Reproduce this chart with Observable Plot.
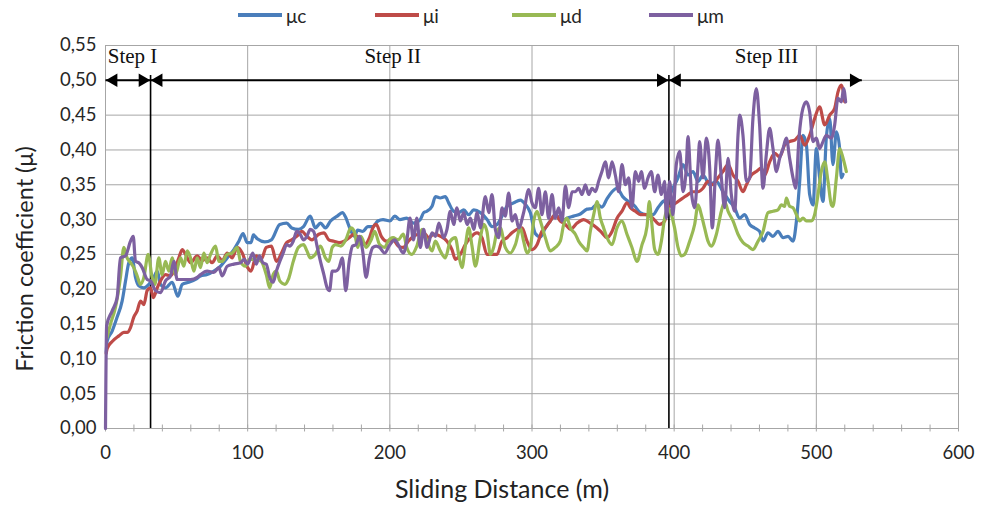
<!DOCTYPE html>
<html><head><meta charset="utf-8">
<script src="https://cdn.jsdelivr.net/npm/d3@7"></script>
<script src="https://cdn.jsdelivr.net/npm/@observablehq/plot@0.6"></script>
<style>
body{margin:0;background:#fff;width:988px;height:507px;overflow:hidden;font-family:Lato,sans-serif}
#legend{height:30px;display:flex;align-items:center;padding-left:238px;box-sizing:border-box}
.item{display:flex;align-items:center;width:137px;font-size:19px;color:#262626}
.sw{width:44px;height:3.5px;margin-right:4px}
</style></head><body>
<div id="legend"></div><div id="chart"></div>
<script>
// ---- data (distance m, friction coefficient) ----
const seriesNames = ["μc", "μi", "μd", "μm"];
const seriesColors = ["#4a7ebb", "#be4b48", "#98b954", "#7d60a0"];

const muC = [[0.5,0.11],[1.2,0.126],[4.7,0.14],[8.2,0.16],[11.7,0.183],[14.1,0.212],[16.4,0.238],[18.8,0.245],[21.1,0.217],[23.4,0.205],[27,0.202],[30.5,0.207],[34,0.217],[36.4,0.226],[38.7,0.207],[42.2,0.202],[46.9,0.21],[50.9,0.19],[54,0.207],[58.6,0.21],[63.3,0.214],[66.8,0.219],[71.5,0.221],[76.2,0.226],[80.9,0.233],[85.6,0.245],[90.3,0.257],[93.8,0.269],[96.8,0.28],[99.6,0.267],[102.4,0.267],[104,0.278],[107,0.272],[112,0.268],[116.7,0.271],[122.6,0.293],[127.4,0.295],[131,0.288],[135.7,0.286],[139.3,0.29],[144,0.305],[147.6,0.288],[151.2,0.295],[154.7,0.288],[158.3,0.298],[163,0.305],[166.6,0.31],[169,0.303],[171.4,0.29],[175,0.276],[177.4,0.285],[181,0.283],[184.5,0.29],[188,0.29],[191.6,0.298],[195.2,0.3],[200,0.298],[203.5,0.305],[207.1,0.3],[211.9,0.302],[216.6,0.295],[221.4,0.3],[223.8,0.31],[226.1,0.312],[229.7,0.319],[232.1,0.333],[235.5,0.331],[239,0.333],[241.4,0.324],[244.9,0.312],[248.4,0.31],[252,0.314],[255.5,0.307],[259,0.314],[263.7,0.31],[268.4,0.3],[271.9,0.29],[275.4,0.293],[278.9,0.305],[282.4,0.319],[287.1,0.324],[291.8,0.328],[295.3,0.322],[298.8,0.31],[302.3,0.28],[305.9,0.275],[309.4,0.288],[312.9,0.298],[316.4,0.307],[321.1,0.298],[324.6,0.302],[329.3,0.305],[334,0.308],[338.7,0.315],[342.2,0.316],[345.7,0.322],[349.2,0.318],[352.8,0.33],[356.3,0.34],[359.8,0.345],[363.8,0.333],[368.5,0.325],[372,0.32],[376,0.31],[380.4,0.307],[385,0.307],[388.6,0.317],[392.1,0.326],[395.6,0.33],[399.1,0.345],[402.7,0.36],[406.2,0.379],[409.7,0.364],[413.2,0.369],[416.8,0.355],[420.3,0.364],[425,0.35],[429.7,0.355],[434.3,0.34],[439,0.326],[442.5,0.317],[446,0.302],[449.6,0.307],[453.1,0.293],[456.6,0.288],[460.1,0.283],[462.5,0.269],[466,0.281],[469.5,0.276],[473,0.283],[476.6,0.274],[480.1,0.276],[483.6,0.269],[486,0.298],[488.3,0.355],[490.6,0.421],[493,0.407],[495.3,0.336],[497.7,0.321],[500,0.402],[502.3,0.36],[504.7,0.326],[507,0.417],[509.4,0.445],[511.7,0.379],[514.1,0.426],[516.4,0.402],[517.6,0.36],[518.8,0.365]];

const muI = [[0.5,0.108],[1.2,0.115],[4.7,0.125],[9.4,0.133],[12.9,0.138],[15.2,0.138],[17.6,0.145],[19.9,0.16],[22.3,0.169],[24.6,0.183],[27,0.178],[29.3,0.198],[31.7,0.202],[33.6,0.188],[36.4,0.202],[38.7,0.212],[42.2,0.221],[45.7,0.219],[48.1,0.226],[51.6,0.245],[54,0.257],[56.3,0.25],[59.8,0.238],[64.5,0.248],[68,0.241],[71.5,0.245],[75,0.238],[78.6,0.248],[82.1,0.241],[85.6,0.252],[89.1,0.245],[92.6,0.26],[96.2,0.252],[100,0.231],[102.4,0.226],[106,0.248],[109.5,0.243],[113.1,0.26],[116.7,0.262],[120.2,0.24],[123.8,0.252],[127.4,0.267],[131,0.271],[134.5,0.276],[138.1,0.283],[141.7,0.276],[145.2,0.271],[150,0.279],[153.6,0.281],[157.1,0.271],[160.7,0.269],[164.3,0.267],[167.8,0.269],[171.4,0.274],[175,0.279],[178.5,0.271],[182.1,0.264],[185.7,0.274],[188,0.288],[190.4,0.293],[194,0.276],[197.6,0.269],[202.3,0.271],[205.9,0.262],[209.5,0.26],[213,0.269],[216.6,0.276],[220.2,0.279],[223.8,0.281],[227.4,0.274],[230.9,0.279],[235.7,0.276],[240.2,0.269],[243.7,0.257],[246.1,0.243],[249.6,0.25],[253.1,0.264],[256.6,0.274],[261.3,0.281],[264.8,0.274],[268.3,0.25],[271.9,0.25],[275.4,0.25],[278.9,0.269],[282.4,0.274],[285.9,0.281],[289.4,0.286],[293,0.288],[296.5,0.269],[300,0.257],[303.5,0.264],[307,0.283],[309.4,0.288],[312.9,0.298],[316.4,0.307],[319.9,0.298],[323.5,0.293],[327,0.286],[331.7,0.295],[336.3,0.3],[341,0.295],[345.7,0.288],[349.2,0.281],[352.8,0.274],[356.3,0.283],[359.8,0.302],[363.3,0.312],[366.8,0.324],[369.2,0.317],[372.7,0.312],[376.2,0.307],[380.4,0.307],[385,0.302],[389.7,0.293],[393.3,0.298],[395.6,0.317],[399.1,0.321],[402.7,0.326],[406.2,0.331],[409.7,0.336],[413.2,0.34],[416.8,0.34],[420.3,0.345],[423.8,0.355],[427.3,0.35],[430.8,0.36],[434.3,0.369],[437.9,0.379],[441.4,0.364],[444.9,0.355],[448.4,0.34],[450.8,0.35],[454.3,0.364],[457.8,0.369],[461.3,0.374],[463.7,0.364],[467.2,0.383],[470.7,0.395],[474.2,0.39],[477.7,0.407],[481.2,0.412],[484.8,0.414],[488.3,0.421],[491.8,0.407],[495.3,0.421],[498.8,0.445],[502.3,0.462],[505.9,0.436],[509.4,0.45],[512.9,0.46],[515.2,0.483],[517.6,0.493],[520,0.469]];

const muD = [[1,0.13],[3.5,0.15],[7,0.174],[10.5,0.217],[12.9,0.26],[15.2,0.245],[17.6,0.238],[19.9,0.231],[22.3,0.219],[24.6,0.207],[27,0.217],[30,0.25],[32.8,0.217],[34.7,0.207],[37.5,0.245],[39.8,0.221],[42.2,0.24],[44.5,0.226],[46.9,0.245],[49.2,0.221],[52.8,0.245],[55.1,0.233],[57.5,0.255],[59.8,0.245],[62.2,0.226],[64.5,0.245],[66.8,0.231],[69.2,0.252],[71.5,0.238],[73.9,0.25],[77.4,0.262],[79.7,0.24],[82.1,0.24],[85.6,0.25],[89.1,0.252],[92.6,0.26],[94.9,0.24],[98.4,0.233],[101.2,0.243],[106,0.243],[109.5,0.24],[113.1,0.221],[115.5,0.202],[117.9,0.221],[120.2,0.226],[122.6,0.212],[126.2,0.207],[128.6,0.214],[132.1,0.24],[135.7,0.26],[139.3,0.264],[141.7,0.255],[144,0.245],[147.6,0.25],[151.2,0.262],[154.7,0.245],[157.1,0.24],[159.5,0.26],[161.9,0.264],[165.5,0.262],[169,0.271],[172.6,0.288],[175,0.283],[177.4,0.26],[179.7,0.276],[183.3,0.26],[186.9,0.271],[189.3,0.283],[192.8,0.264],[196.4,0.26],[198.8,0.269],[202.3,0.274],[205.9,0.271],[209.5,0.279],[211.9,0.26],[215.4,0.25],[219,0.262],[222.6,0.286],[226.1,0.269],[229.7,0.255],[232,0.269],[235.5,0.255],[239,0.245],[242.5,0.269],[246.1,0.274],[248.4,0.25],[250.8,0.231],[253.1,0.262],[255.5,0.288],[257.8,0.262],[260.2,0.233],[263.7,0.274],[266,0.293],[268.3,0.283],[270.7,0.25],[273,0.26],[275.4,0.283],[277.7,0.288],[281.2,0.26],[284.8,0.252],[288.3,0.264],[291.8,0.288],[294.1,0.269],[296.5,0.252],[298.8,0.26],[301.2,0.298],[303.5,0.312],[305.9,0.298],[309.4,0.274],[312.9,0.255],[316.4,0.26],[319.9,0.269],[322.3,0.293],[324.6,0.302],[327,0.288],[330.5,0.279],[332.8,0.269],[336.3,0.26],[338.7,0.255],[341,0.283],[343.4,0.307],[345.7,0.326],[348.1,0.302],[350.4,0.288],[352.8,0.274],[356.3,0.264],[359.8,0.288],[363.3,0.298],[366.8,0.279],[370.3,0.26],[373.8,0.24],[377.4,0.264],[380.9,0.29],[382.5,0.326],[384,0.3],[386.3,0.257],[388.6,0.25],[391,0.269],[393.3,0.302],[395.6,0.317],[398,0.307],[400.3,0.288],[402.7,0.26],[405,0.248],[407.3,0.25],[410.9,0.269],[414.4,0.293],[416.8,0.321],[419.1,0.307],[421.4,0.288],[423.8,0.269],[426.1,0.262],[429.7,0.279],[433.2,0.312],[435.5,0.326],[437.9,0.312],[441.4,0.298],[444.9,0.279],[448.4,0.267],[451.9,0.262],[455.4,0.257],[459,0.269],[462.5,0.283],[466,0.31],[469.5,0.312],[473,0.314],[475.4,0.321],[477.7,0.319],[478.9,0.331],[481.2,0.319],[483.6,0.317],[486,0.307],[488.3,0.298],[490.6,0.302],[493,0.298],[496.5,0.298],[498.8,0.307],[501.2,0.336],[503.5,0.369],[505.9,0.383],[508.2,0.355],[510.6,0.321],[511.7,0.319],[514.1,0.36],[516.4,0.402],[518.8,0.388],[521.1,0.369]];

const muM = [[0,0],[0.8,0.148],[4.7,0.169],[8.2,0.188],[10.5,0.245],[14.1,0.248],[17.6,0.269],[19.5,0.276],[21.1,0.24],[23.4,0.238],[25.8,0.231],[29.3,0.214],[31.7,0.212],[35.2,0.198],[38.7,0.195],[42.2,0.212],[45.7,0.219],[48.1,0.24],[50.4,0.214],[55.1,0.214],[59.8,0.214],[64.5,0.217],[66.8,0.221],[71.5,0.226],[76.2,0.224],[79.7,0.231],[82.1,0.219],[85.6,0.233],[90.3,0.236],[95,0.238],[97.6,0.243],[100,0.236],[103.6,0.252],[106,0.236],[108.3,0.248],[110.7,0.238],[113.1,0.236],[115.5,0.217],[117.9,0.21],[120.2,0.226],[122.6,0.24],[125,0.252],[127.4,0.264],[129.8,0.262],[132.1,0.269],[134.5,0.283],[136.9,0.279],[139.3,0.271],[141.7,0.276],[144,0.286],[146.4,0.283],[148.8,0.262],[151.2,0.24],[153.6,0.221],[155.9,0.202],[157.6,0.198],[159.5,0.226],[161.9,0.226],[164.3,0.231],[166.6,0.245],[169,0.198],[171.4,0.24],[173.8,0.262],[176.2,0.264],[178.5,0.276],[180.9,0.255],[183.3,0.217],[185.7,0.245],[188,0.26],[190.4,0.262],[192.8,0.26],[196.4,0.252],[200,0.264],[203.5,0.271],[205.9,0.264],[209.5,0.252],[211.9,0.269],[214.2,0.302],[216.6,0.271],[219,0.302],[221.4,0.26],[223.8,0.286],[226.1,0.26],[229.7,0.281],[232.1,0.276],[234.5,0.295],[237.9,0.274],[240.2,0.286],[242.5,0.312],[244.9,0.293],[247.2,0.317],[249.6,0.298],[252,0.31],[254.3,0.293],[256.7,0.302],[259,0.286],[261.4,0.31],[263.7,0.288],[267.2,0.333],[269.6,0.31],[271.9,0.336],[274.2,0.286],[276.6,0.274],[278.9,0.317],[281.2,0.305],[283.6,0.338],[285.9,0.298],[288.3,0.307],[290.6,0.288],[294.1,0.31],[297.7,0.343],[300,0.324],[302.3,0.317],[304.7,0.345],[307,0.307],[309.4,0.34],[311.7,0.302],[314.1,0.336],[316.4,0.302],[318.8,0.317],[321.1,0.298],[323.5,0.348],[325.8,0.317],[328.2,0.34],[330.5,0.34],[332.8,0.345],[335.2,0.336],[337.5,0.35],[339.9,0.336],[342.2,0.345],[344.6,0.34],[346.9,0.355],[349.2,0.369],[351.6,0.383],[353.9,0.36],[356.3,0.383],[358.6,0.364],[361,0.34],[363.3,0.379],[365.7,0.35],[368,0.36],[370.3,0.317],[372.7,0.369],[375,0.355],[376.9,0.369],[379.2,0.345],[381.6,0.36],[383.9,0.369],[386.3,0.34],[388.6,0.364],[391,0.336],[393.3,0.355],[394.5,0.302],[396.8,0.355],[399.1,0.307],[401.5,0.379],[403.9,0.398],[406.2,0.34],[408.5,0.374],[409.7,0.419],[412.1,0.34],[414.4,0.317],[416.8,0.379],[417.9,0.412],[420.3,0.36],[422.6,0.417],[425,0.374],[426.8,0.288],[429.2,0.374],[430.8,0.414],[433.2,0.36],[435.5,0.317],[437.9,0.388],[440.2,0.336],[442.6,0.312],[444.9,0.421],[446.1,0.45],[448.4,0.421],[450.8,0.355],[453.1,0.36],[455.4,0.445],[457.8,0.488],[460.1,0.436],[462.5,0.345],[464.8,0.393],[467.2,0.431],[469.5,0.402],[471.9,0.369],[474.2,0.388],[476.6,0.402],[478.9,0.417],[481.2,0.388],[483.6,0.36],[485.5,0.345],[487.8,0.417],[490.6,0.46],[493,0.469],[495.3,0.455],[497.7,0.412],[500,0.417],[502.3,0.402],[504.7,0.412],[507,0.421],[510.6,0.417],[512.9,0.436],[515.2,0.474],[517.6,0.469],[519.2,0.488],[520.6,0.469]];

// step annotation: ranges (m) and label positions (m)
const stepNames = ["Step I", "Step II", "Step III"];
const stepStart = [0, 31.7, 396.3];
const stepEnd = [31.7, 396.3, 532];
const stepLabelX = [19, 202, 465];
const stepBoundaries = [31.7, 396.3];

const xTickValues = [0, 100, 200, 300, 400, 500, 600];
const xMinorTicks = d3.range(0, 601, 20);
const yGridValues = [0.05,0.10,0.15,0.20,0.25,0.30,0.35,0.40,0.45,0.50,0.55];

// ---- build ----
const allSeries = [muC, muI, muD, muM];
const rows = allSeries.flatMap((s, k) => s.map(([x, y]) => ({x, y, s: seriesNames[k]})));
const steps = stepNames.map((n, i) => ({name: n, start: stepStart[i], end: stepEnd[i], lx: stepLabelX[i]}));

const legend = document.getElementById("legend");
seriesNames.forEach((n, i) => {
  const it = document.createElement("div"); it.className = "item";
  const sw = document.createElement("div"); sw.className = "sw"; sw.style.background = seriesColors[i];
  const lb = document.createElement("span"); lb.textContent = n;
  it.appendChild(sw); it.appendChild(lb); legend.appendChild(it);
});

const grid = "#a6a6a6";
const chart = Plot.plot({
  width: 988, height: 477,
  marginTop: 15, marginBottom: 79, marginLeft: 105, marginRight: 30,
  style: {fontFamily: "Lato", fontSize: "18.5px", color: "#262626", background: "white", overflow: "visible"},
  x: {domain: [0, 600], ticks: 6, tickSize: 0, tickPadding: 17, label: null},
  y: {domain: [0, 0.55], ticks: 11, tickSize: 0, tickPadding: 9, label: null,
      tickFormat: d => d.toFixed(2).replace(".", ",")},
  color: {domain: seriesNames, range: seriesColors},
  marks: [
    Plot.ruleY(yGridValues, {stroke: grid, strokeWidth: 1}),
    Plot.ruleX(xTickValues.filter(d => d > 0), {stroke: grid, strokeWidth: 1}),
    Plot.ruleY([0], {stroke: grid, strokeWidth: 1}),
    Plot.ruleX([0], {stroke: grid, strokeWidth: 1}),
    Plot.ruleX(xMinorTicks, {y1: -0.005, y2: 0.005, stroke: grid, strokeWidth: 1}),
    Plot.ruleX(stepBoundaries, {y1: 0, y2: 0.507, stroke: "black", strokeWidth: 1.6}),
    Plot.line(rows, {x: "x", y: "y", z: "s", stroke: "s", strokeWidth: 3.2, curve: "monotone-x"}),
    Plot.link(steps, {x1: "start", x2: "end", y1: () => 0.5, y2: () => 0.5, stroke: "black", strokeWidth: 2}),
    Plot.dot(steps, {x: "start", y: () => 0.5, symbol: "triangle", rotate: -90, r: 5, fill: "black", stroke: "none", dx: 8}),
    Plot.dot(steps, {x: "end", y: () => 0.5, symbol: "triangle", rotate: 90, r: 5, fill: "black", stroke: "none", dx: -8}),
    Plot.text(steps, {x: "lx", y: () => 0.535, text: "name", fontFamily: "Liberation Serif", fontSize: 21, fontWeight: "normal", fill: "#111"}),
    Plot.text(["Sliding Distance (m)"], {frameAnchor: "bottom", lineAnchor: "middle", textAnchor: "middle", dy: 61, dx: -30, fontSize: 25, fill: "#222"}),
    Plot.text(["Friction coefficient (μ)"], {frameAnchor: "left", lineAnchor: "middle", textAnchor: "middle", rotate: -90, dx: -80, dy: 22, fontSize: 23.5, fill: "#222"})
  ]
});
document.getElementById("chart").appendChild(chart);
</script></body></html>
